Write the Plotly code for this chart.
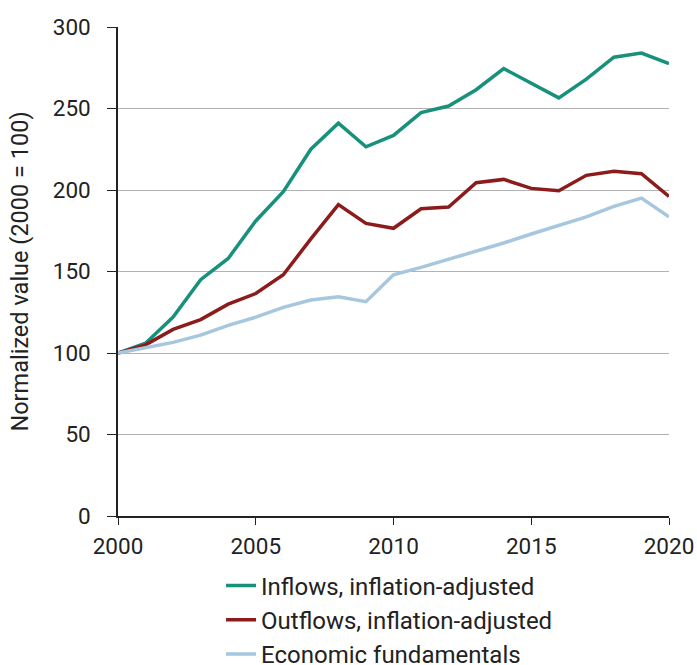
import plotly.graph_objects as go

years = list(range(2000, 2021))

inflows = [100, 106, 122, 145, 158, 181, 199, 225, 241, 226.5, 233.5,
           247.5, 251.5, 261.5, 274.5, 265.5, 256.5, 268, 281.5, 284, 277.5]
outflows = [100, 105, 114.5, 120.5, 130, 136.5, 148, 170, 191, 179.5, 176.5,
            188.5, 189.5, 204.5, 206.5, 201, 199.5, 209, 211.5, 210, 196]
fundamentals = [100, 103, 106.5, 111, 117, 122, 128, 132.5, 134.5, 131.5, 148,
                152.5, 157.5, 162, 167.5, 173, 178, 183.5, 190, 195, 183.5]

series = [
    ("Inflows, inflation-adjusted", inflows, "#17917b"),
    ("Outflows, inflation-adjusted", outflows, "#8c1c1c"),
    ("Economic fundamentals", fundamentals, "#a6c7de"),
]

FONT = "Roboto, sans-serif"
TEXT = "#222222"

fig = go.Figure()
for name, vals, color in series:
    fig.add_trace(go.Scatter(
        x=years, y=vals, name=name, mode="lines",
        line=dict(color=color, width=3.5),
    ))

fig.update_layout(
    width=697, height=665,
    margin=dict(l=118, r=28, t=27, b=149, autoexpand=False),
    paper_bgcolor="white", plot_bgcolor="white",
    font=dict(family=FONT, size=23, color=TEXT),
    showlegend=True,
    legend=dict(
        x=0.187, y=-0.097, xanchor="left", yanchor="top",
        orientation="v", tracegroupgap=0,
        font=dict(family=FONT, size=24, color=TEXT),
        itemwidth=30,
    ),
    xaxis=dict(
        range=[2000, 2020], tickvals=[2000, 2005, 2010, 2015, 2020],
        showgrid=False, showline=True, linecolor=TEXT, linewidth=1.5,
        ticks="outside", ticklen=7, tickcolor=TEXT, zeroline=False,
        tickfont=dict(family=FONT, size=22.5, color=TEXT),
        ticklabelstandoff=2,
    ),
    yaxis=dict(
        range=[0, 300], tickvals=[0, 50, 100, 150, 200, 250, 300],
        showgrid=True, gridcolor="#b3b3b3", gridwidth=1.2,
        showline=True, linecolor=TEXT, linewidth=1.5,
        ticks="outside", ticklen=9, tickcolor=TEXT, zeroline=False,
        tickfont=dict(family=FONT, size=22.5, color=TEXT),
        ticklabelstandoff=12,
        title=dict(text="Normalized value (2000 = 100)", standoff=18,
                   font=dict(family=FONT, size=23.5, color=TEXT)),
    ),
)

fig.write_html("out.html")
